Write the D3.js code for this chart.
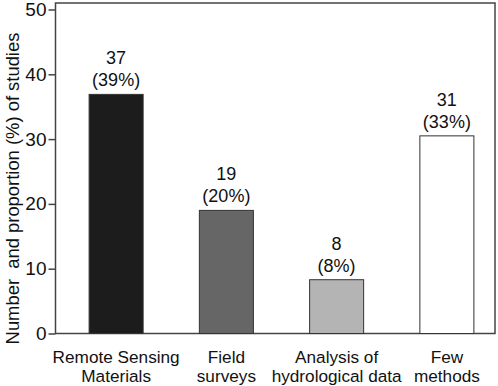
<!DOCTYPE html>
<html>
<head>
<meta charset="utf-8">
<script src="https://cdn.jsdelivr.net/npm/d3@7"></script>
<style>
  body { margin: 0; background: #fff; }
  text { font-family: Arial, "Liberation Sans", sans-serif; fill: #111; }
</style>
</head>
<body>
<div id="chart"></div>
<script>
// data
var categories = ["Remote Sensing|Materials", "Field|surveys", "Analysis of|hydrological data", "Few|methods"];
var barValues = [36.9, 19.0, 8.3, 30.5];
var counts = ["37", "19", "8", "31"];
var percents = ["(39%)", "(20%)", "(8%)", "(33%)"];
var barColors = ["#1c1c1c", "#666666", "#b4b4b4", "#ffffff"];
var yTicks = [0, 10, 20, 30, 40, 50];

var W = 498, H = 386;
var box = {left: 55.5, right: 495, top: 3, bottom: 333.5};

var svg = d3.select("#chart")
  .append("svg")
    .attr("width", W)
    .attr("height", H);

var x = d3.scaleBand()
  .domain(categories)
  .range([61, 502])
  .paddingInner(0.51)
  .paddingOuter(0.255);

var y = d3.scaleLinear()
  .domain([0, 50])
  .range([box.bottom, 9.5]);

// frame
svg.append("rect")
  .attr("x", box.left)
  .attr("y", box.top)
  .attr("width", box.right - box.left)
  .attr("height", box.bottom - box.top)
  .attr("fill", "none")
  .attr("stroke", "#444")
  .attr("stroke-width", 1.5);

// y axis
var yAxis = svg.append("g")
  .attr("transform", "translate(" + box.left + ",0)")
  .call(d3.axisLeft(y).tickValues(yTicks).tickSize(7).tickPadding(2));
yAxis.select(".domain").remove();
yAxis.selectAll(".tick line").attr("stroke", "#444").attr("stroke-width", 1.5);
yAxis.selectAll(".tick text")
  .attr("font-size", 19)
  .attr("font-family", "Arial, 'Liberation Sans', sans-serif")
  .attr("fill", "#111");

svg.append("text")
  .attr("transform", "translate(18.5,188.5) rotate(-90)")
  .attr("text-anchor", "middle")
  .attr("font-size", 18.4)
  .style("white-space", "pre")
  .text("Number  and proportion (%) of studies");

// bars
svg.selectAll(".bar")
  .data(barValues)
  .enter().append("rect")
    .attr("class", "bar")
    .attr("x", function(d, i) { return x(categories[i]); })
    .attr("y", function(d) { return y(d); })
    .attr("width", x.bandwidth())
    .attr("height", function(d) { return y(0) - y(d); })
    .attr("fill", function(d, i) { return barColors[i]; })
    .attr("stroke", "#333")
    .attr("stroke-width", 1);

// value labels
svg.selectAll(".count")
  .data(barValues)
  .enter().append("text")
    .attr("x", function(d, i) { return x(categories[i]) + x.bandwidth() / 2; })
    .attr("y", function(d) { return y(d) - 30; })
    .attr("text-anchor", "middle")
    .attr("font-size", 18)
    .text(function(d, i) { return counts[i]; });

svg.selectAll(".pct")
  .data(barValues)
  .enter().append("text")
    .attr("x", function(d, i) { return x(categories[i]) + x.bandwidth() / 2; })
    .attr("y", function(d) { return y(d) - 8; })
    .attr("text-anchor", "middle")
    .attr("font-size", 18)
    .text(function(d, i) { return percents[i]; });

// category labels
var xlab = svg.selectAll(".xlab")
  .data(categories)
  .enter().append("text")
    .attr("text-anchor", "middle")
    .attr("font-size", 17.2)
    .attr("transform", function(d) {
      return "translate(" + (x(d) + x.bandwidth() / 2) + ",0)";
    });
xlab.append("tspan").attr("x", 0).attr("y", 363)
  .text(function(d) { return d.split("|")[0]; });
xlab.append("tspan").attr("x", 0).attr("y", 381.5)
  .text(function(d) { return d.split("|")[1]; });
</script>
</body>
</html>
